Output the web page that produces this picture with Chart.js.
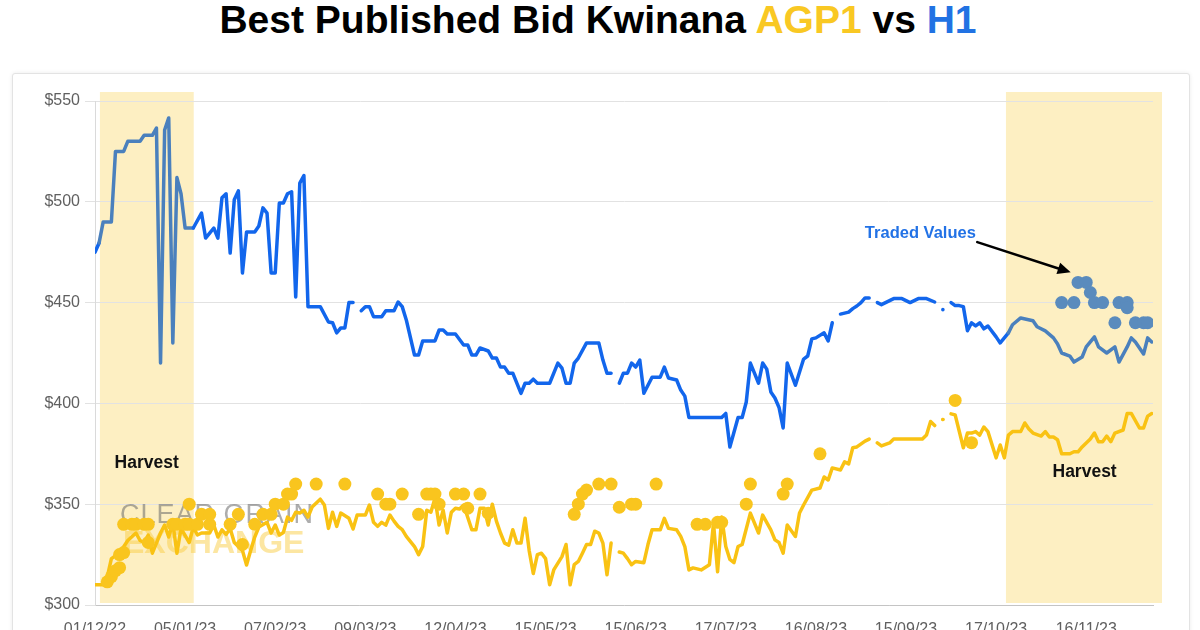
<!DOCTYPE html>
<html><head><meta charset="utf-8">
<script src="https://cdn.jsdelivr.net/npm/chart.js@4.4.0/dist/chart.umd.min.js"></script>
<style>
html,body{margin:0;padding:0;background:#fff;width:1200px;height:630px;overflow:hidden;}
#title{position:absolute;left:0;top:0;width:1196px;text-align:center;font:bold 39px/39px "Liberation Sans",Arial,sans-serif;color:#000;white-space:nowrap;}
.agp{color:#f9c823}.h1c{color:#2172e3}
#card{position:absolute;left:12px;top:73px;width:1176px;height:620px;border:1px solid #e3e3e3;border-radius:3px;box-shadow:0 0 4px rgba(0,0,0,0.08);background:#fff;}
canvas{position:absolute;left:0;top:0;}
</style></head><body>
<div id="card"></div>
<div id="title">Best Published Bid Kwinana <span class="agp">AGP1</span> vs <span class="h1c">H1</span></div>
<canvas id="c" width="1200" height="630"></canvas>
<script>
// ---- data (x = trading-day index from 01/12/22) ----
const xTickLabels = ['01/12/22','05/01/23','07/02/23','09/03/23','12/04/23','15/05/23','15/06/23','17/07/23','16/08/23','15/09/23','17/10/23','16/11/23'];
const daysPerTick = 22;
const yTickValues = [300,350,400,450,500,550];

const h1Days = [0,1,2,4,5,7,8,11,12,14,15,16,17,18,19,20,21,22,24,26,27,28,29,30,31,32,33,34,35,36,37,39,40,41,42,43,44,45,46,47,48,49,50,51,52,55,57,58,59,60,61,62,63,64,65,66,67,68,70,71,73,74,75,76,78,79,80,83,84,85,86,88,90,91,92,93,94,96,97,98,99,100,101,102,104,105,106,107,108,111,113,114,115,116,117,118,120,123,124,125,126,127,128,129,130,131,132,133,134,136,138,139,140,142,143,144,145,153,154,155,157,158,159,160,161,162,163,164,165,166,167,168,169,171,173,174,175,176,178,179,180,181,182,184,185,186,187,188,189,190,191,192,194,195,197,199,201,203,205,206,207,208,209,210,211,212,213,214,215,216,217,218,220,221,223,224,226,229,230,232,234,235,236,238,239,241,242,244,245,247,249,250,252,253,254,256,257,258];
const h1Bids = [475,479.6,490,490,525,525,530,530,533,533,536.6,420,535.6,541.6,430,512,504,487,487,494.4,482,484.5,487,482,502,504,474.6,501,505.4,464.7,485,485,488,497,494.4,464.7,464.7,499.4,499.4,504,505,452.8,509.3,513,448,448,440.4,440,435,437.4,437.4,450,450,null,446,448,448,443,443,446,446,450.3,448,441.4,424,424,431,431,436.4,436.4,434.4,434.4,429,429,424,424,427.5,426,422.5,422.5,418,418,415,415,405,410,410,412,410,410,420,417.5,410,410,420,422.5,430,430,421.5,415,415,null,410,415,415,420,418,421.5,405,413,413,418,412.6,411.6,406.6,403.6,393,393,395,378.4,393,393,400.7,420,415,410,420,417,405.7,402.7,398,387.8,420,409,422,423.5,432,432.5,435,431,440,null,444.3,445.3,447,448.3,450,452.3,452.3,null,450,449,451,452,452,450,452,452,450.3,null,446.5,null,450,448.5,448.5,448,436,440,438.4,440,437,438.4,433,430,435,439,442.4,441,438,436,432.5,429.5,425,423.5,420.5,423,428,433,428,425,428,420.5,428,432.5,430.5,424.5,432.5,430.5];

const agpDays = [0,2,3,4,6,8,10,11,12,13,14,16,17,18,19,20,21,23,24,25,26,28,29,30,31,32,33,34,36,37,38,39,40,42,43,44,45,46,47,48,49,50,51,52,53,55,56,57,58,59,60,62,63,64,66,67,68,69,70,71,72,73,74,75,76,78,79,80,81,82,83,84,85,86,87,88,89,90,92,93,94,95,96,97,98,99,100,101,102,103,104,105,106,107,108,109,110,111,112,114,115,116,117,118,119,120,121,122,123,124,125,126,127,128,129,130,131,132,134,135,136,138,139,140,142,143,144,145,146,148,150,151,152,153,154,155,156,157,158,160,162,163,165,166,167,168,169,171,172,173,175,177,178,179,180,182,183,184,185,186,188,189,190,191,192,194,195,202,203,204,205,206,207,208,209,210,212,213,214,215,216,217,218,220,221,222,223,224,226,227,228,229,231,232,233,234,235,236,238,239,240,241,243,244,245,246,247,248,249,251,252,253,255,256,257,258];
const agpBids = [310,310,314,323,325.8,332,335.7,332,331,334.7,325.7,335.7,339.7,333.7,340.7,325.7,338,331,338.7,334.7,335.7,335.7,339.7,333.7,337.3,335,338,331,327,319.8,327,333.7,338.7,341,335.7,339.7,334.7,336,343.6,342,346,345.6,347,343.6,348.6,352.5,349.6,338,346,339,345.6,343,337.7,344.6,344.6,349.6,341,339,341,339.6,344.6,341.6,339,337.4,334,329,325,329,347,346,353,339.7,347,335.7,346,348,347.6,349.6,337.3,337.3,348,348,339.7,350,341.6,335.7,330.7,329.7,337.3,330.7,330.7,343,327,315.6,325,325.7,323,310,317.4,324,330,310,320,321.6,325.7,330,330,336.6,335.7,330.7,315,330.7,null,326.3,325.7,323,320,321.6,321,330,337.3,337.3,343,338,337.3,334,329,317.4,318.4,317.4,320,340.6,316.5,343.6,329,322.6,321,329,330,345.6,335.7,344.6,337.3,332.3,331,325.7,339.7,334,345.6,349.6,357,358,363.5,362,368,367,371,370,378,378.4,381.3,382.3,null,380.4,378.9,380.4,382.3,382.3,384.3,391,389,null,392,null,394.8,394.3,378,385.3,385.3,386,384.3,388.3,386,373,379.4,373,384.3,386,386,390.3,387.3,385.3,383.8,386,383.3,383.3,382,375,375,376,376,378.4,382.3,385.3,381,381,383.8,381,385.3,386.8,395,395,387.8,387.8,393.7,395];

const agpTradeDays = [3,4,5,6,6,7,7,9,10,12,13,13,19,20,22,23,25,23,26,28,28,33,35,36,39,41,43,44,46,47,48,49,54,61,69,71,72,75,79,81,82,83,84,88,90,91,94,96,117,118,119,120,123,126,128,131,132,137,147,149,152,153,159,160,168,169,177,210,214];
const agpTradeVals = [311.5,314,317,318.5,325,326,340,340,340,340,340,331,340,340,340,340,340,350,345,340,345,340,345,330,340,345,345,350,350,355,355,360,360,360,355,350,350,355,345,355,355,355,350,355,355,348,355,345.5,345,350,355,357,360,360,348.5,350,350,360,340,340,341,341,350,360,355,360,375,401.5,380.5];

const h1TradeDays = [240,242,243,236,239,244,246,250,252,252,249,254,256,257];
const h1TradeVals = [460,460,455,450,450,450,450,450,450,447.5,440,440,440,440];

const harvestStarts = [1.2, 222.4];
const harvestEnds = [24.1, 260.5];

// ---- styling ----
const BLUE = '#1266ec', STEEL = '#4a80bd', YELLOW = '#f9c213';
const FONT = '"Liberation Sans", Arial, sans-serif';

function inHarvest(x){ for(let i=0;i<harvestStarts.length;i++){ if(x>=harvestStarts[i]&&x<=harvestEnds[i]) return true;} return false; }
function pts(xs, ys){ return xs.map((d,i)=>({x:d,y:ys[i]})); }
function isolatedRadius(ctx){
  const d = ctx.dataset.data, i = ctx.dataIndex;
  if (d[i].y===null) return 0;
  const p = d[i-1], n = d[i+1];
  return (p && p.y===null && n && n.y===null) ? 1.8 : 0;
}

const bgPlugin = {
  id:'bg',
  beforeDraw(chart){
    const {ctx, chartArea:a, scales:{x}} = chart;
    ctx.save();
    ctx.fillStyle = '#fdefc2';
    for(let i=0;i<harvestStarts.length;i++){
      const x0 = x.getPixelForValue(harvestStarts[i]), x1 = x.getPixelForValue(harvestEnds[i]);
      ctx.fillRect(x0, a.top-9, x1-x0, a.bottom-2-(a.top-9));
    }
    ctx.restore();
  },
  beforeDatasetsDraw(chart){
    const {ctx, chartArea:a} = chart;
    ctx.save();
    ctx.textBaseline='alphabetic'; ctx.textAlign='left';
    ctx.letterSpacing='1px';
    ctx.font = '400 27px '+FONT;
    ctx.fillStyle='rgba(105,105,105,0.55)';
    ctx.fillText('CLEAR GRAIN', a.left+25, 523);
    ctx.letterSpacing='0px';
    ctx.font = 'bold 32px '+FONT;
    ctx.fillStyle='rgba(250,205,70,0.5)';
    ctx.fillText('EXCHANGE', a.left+28, 553);
    ctx.restore();
  },
  afterDatasetsDraw(chart){
    const {ctx, scales:{x,y}} = chart;
    ctx.save();
    ctx.textAlign='center'; ctx.textBaseline='middle';
    ctx.fillStyle='#111';
    ctx.font='bold 17.5px '+FONT;
    ctx.fillText('Harvest', x.getPixelForValue(12.6), y.getPixelForValue(370.4));
    ctx.fillText('Harvest', x.getPixelForValue(241.6), y.getPixelForValue(366));
    ctx.fillStyle='#2272e6';
    ctx.font='bold 16.5px '+FONT;
    ctx.fillText('Traded Values', x.getPixelForValue(201.5), y.getPixelForValue(484.5));
    // arrow
    const ax0=x.getPixelForValue(215.4), ay0=y.getPixelForValue(480);
    const ax1=x.getPixelForValue(238.2), ay1=y.getPixelForValue(465);
    const ang=Math.atan2(ay1-ay0, ax1-ax0);
    ctx.strokeStyle='#000'; ctx.fillStyle='#000'; ctx.lineWidth=2.6; ctx.lineCap='round';
    ctx.beginPath(); ctx.moveTo(ax0,ay0); ctx.lineTo(ax1-8*Math.cos(ang), ay1-8*Math.sin(ang)); ctx.stroke();
    ctx.beginPath();
    ctx.moveTo(ax1,ay1);
    ctx.lineTo(ax1-13*Math.cos(ang)+6*Math.sin(ang), ay1-13*Math.sin(ang)-6*Math.cos(ang));
    ctx.lineTo(ax1-13*Math.cos(ang)-6*Math.sin(ang), ay1-13*Math.sin(ang)+6*Math.cos(ang));
    ctx.closePath(); ctx.fill();
    ctx.restore();
  }
};

new Chart(document.getElementById('c'), {
  type:'scatter',
  data:{ datasets:[
    { label:'H1 traded', data:pts(h1TradeDays,h1TradeVals), showLine:false, pointRadius:6.5, pointBackgroundColor:'#5a8bbd', pointBorderWidth:0 },
    { label:'AGP1 traded', data:pts(agpTradeDays,agpTradeVals), showLine:false, pointRadius:6.5, pointBackgroundColor:'#f9c51e', pointBorderWidth:0 },
    { label:'H1', data:pts(h1Days,h1Bids), showLine:true, spanGaps:false, borderWidth:3.5, tension:0,
      borderColor:BLUE, backgroundColor:BLUE, pointRadius:isolatedRadius, pointBackgroundColor:BLUE, pointBorderWidth:0,
      borderJoinStyle:'round', borderCapStyle:'round',
      segment:{ borderColor: c => inHarvest((c.p0.parsed.x+c.p1.parsed.x)/2) ? STEEL : BLUE } },
    { label:'AGP1', data:pts(agpDays,agpBids), showLine:true, spanGaps:false, borderWidth:3.5, tension:0,
      borderColor:YELLOW, backgroundColor:YELLOW, pointRadius:isolatedRadius, pointBackgroundColor:YELLOW, pointBorderWidth:0,
      borderJoinStyle:'round', borderCapStyle:'round' }
  ]},
  options:{
    responsive:false, animation:false,
    layout:{ padding:{ top:101, right:47, bottom:0, left:0 } },
    plugins:{ legend:{display:false}, tooltip:{enabled:false} },
    scales:{
      x:{ type:'linear', min:0, max:258.3,
        afterBuildTicks: s => { s.ticks = xTickLabels.map((_,i)=>({value:i*daysPerTick})); },
        afterFit: s => { s.height = 25; },
        grid:{ display:false, drawTicks:false },
        border:{ display:true, color:'#c4c4c4', width:1 },
        ticks:{ padding:15, autoSkip:false, maxRotation:0, color:'#606060', font:{family:FONT, size:16},
          callback: v => xTickLabels[Math.round(v/daysPerTick)] }
      },
      y:{ min:300, max:550,
        afterBuildTicks: s => { s.ticks = yTickValues.map(v=>({value:v})); },
        afterFit: s => { s.width = 95; },
        grid:{ color:'#e2e2e2', lineWidth:1, tickLength:10 },
        border:{ display:true, color:'#dadada' },
        ticks:{ padding:5, color:'#606060', font:{family:FONT, size:16}, callback: v => '$'+v }
      }
    }
  },
  plugins:[bgPlugin]
});
</script>
</body></html>
